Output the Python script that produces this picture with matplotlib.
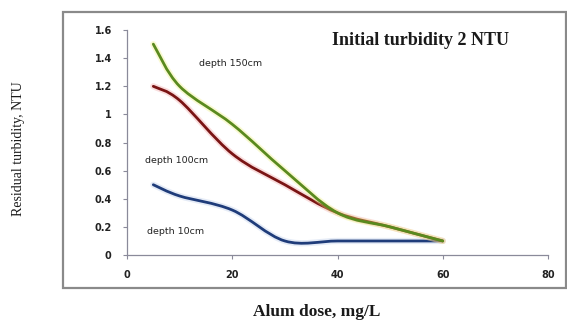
import numpy as np
import matplotlib
matplotlib.use("Agg")
import matplotlib.pyplot as plt
from matplotlib.path import Path
from matplotlib.patches import PathPatch, Rectangle
import matplotlib.patheffects as pe

# Alum dose (mg/L) and residual turbidity (NTU) for three sampling depths
dose = [5, 10, 20, 30, 40, 50, 60]
depth_150 = [1.5, 1.2, 0.93, 0.6, 0.3, 0.2, 0.1]
depth_100 = [1.2, 1.1, 0.72, 0.5, 0.3, 0.2, 0.1]
depth_10 = [0.5, 0.42, 0.32, 0.1, 0.1, 0.1, 0.1]

x_ticks = [0, 20, 40, 60, 80]
y_ticks = [0, 0.2, 0.4, 0.6, 0.8, 1.0, 1.2, 1.4, 1.6]
y_tick_labels = ["0", "0.2", "0.4", "0.6", "0.8", "1", "1.2", "1.4", "1.6"]


def smooth_path(xs, ys):
    """Cubic Bezier path through the points (Catmull-Rom style smoothing)."""
    p = np.column_stack([xs, ys]).astype(float)
    n = len(p)
    verts = [p[0]]
    codes = [Path.MOVETO]
    for i in range(n - 1):
        p0 = p[i - 1] if i > 0 else p[i]
        p1 = p[i]
        p2 = p[i + 1]
        p3 = p[i + 2] if i + 2 < n else p[i + 1]
        c1 = p1 + (p2 - p0) / 6.0
        c2 = p2 - (p3 - p1) / 6.0
        verts += [c1, c2, p2]
        codes += [Path.CURVE4] * 3
    return Path(verts, codes)


fig = plt.figure(figsize=(5.67, 3.2), dpi=100)
fig.patch.set_facecolor("white")

# outer chart frame
fig.patches.append(Rectangle((0.111, 0.10), 0.887, 0.8625, transform=fig.transFigure,
                             fill=False, edgecolor="#8a8a8a", linewidth=1.6))

ax = fig.add_axes([0.224, 0.203, 0.7425, 0.703])
ax.set_xlim(0, 80)
ax.set_ylim(0, 1.6)

series = [
    (depth_10, "#1f3c7a", "#b5c8e8"),
    (depth_100, "#7a1414", "#f0a0a0"),
    (depth_150, "#5a8a1e", "#f0f080"),
]
for vals, col, halo in series:
    patch = PathPatch(smooth_path(dose, vals), fill=False, edgecolor=col,
                      linewidth=2.0, capstyle="round", joinstyle="round")
    patch.set_path_effects([pe.Stroke(linewidth=4.5, foreground=halo, alpha=0.35),
                            pe.Normal()])
    ax.add_patch(patch)

for s in ["top", "right"]:
    ax.spines[s].set_visible(False)
for s in ["left", "bottom"]:
    ax.spines[s].set_color("#8a8a9a")
    ax.spines[s].set_linewidth(0.9)

ax.set_xticks(x_ticks)
ax.set_yticks(y_ticks)
ax.set_yticklabels(y_tick_labels)
ax.tick_params(axis="both", colors="#8a8a9a", length=3, width=0.8, direction="out",
               labelcolor="#222222", labelsize=7, pad=8)
for lab in ax.get_xticklabels() + ax.get_yticklabels():
    lab.set_fontweight("bold")

ax.text(13.7, 1.36, "depth 150cm", fontsize=6.8, color="#222222", va="center", ha="left")
ax.text(3.4, 0.67, "depth 100cm", fontsize=6.8, color="#222222", va="center", ha="left")
ax.text(3.8, 0.17, "depth 10cm", fontsize=6.8, color="#222222", va="center", ha="left")

ax.text(0.698, 0.955, "Initial turbidity 2 NTU", transform=ax.transAxes,
        fontsize=13, fontweight="bold", family="Liberation Serif",
        ha="center", va="center", color="#1a1a1a")

fig.text(0.032, 0.537, "Residual turbidity, NTU", rotation=90, fontsize=10,
         family="Liberation Serif", ha="center", va="center", color="#1a1a1a")
fig.text(0.559, 0.025, "Alum dose, mg/L", fontsize=12.5, fontweight="bold",
         family="Liberation Serif", ha="center", va="center", color="#1a1a1a")

fig.savefig("out.png", dpi=100, facecolor="white")
